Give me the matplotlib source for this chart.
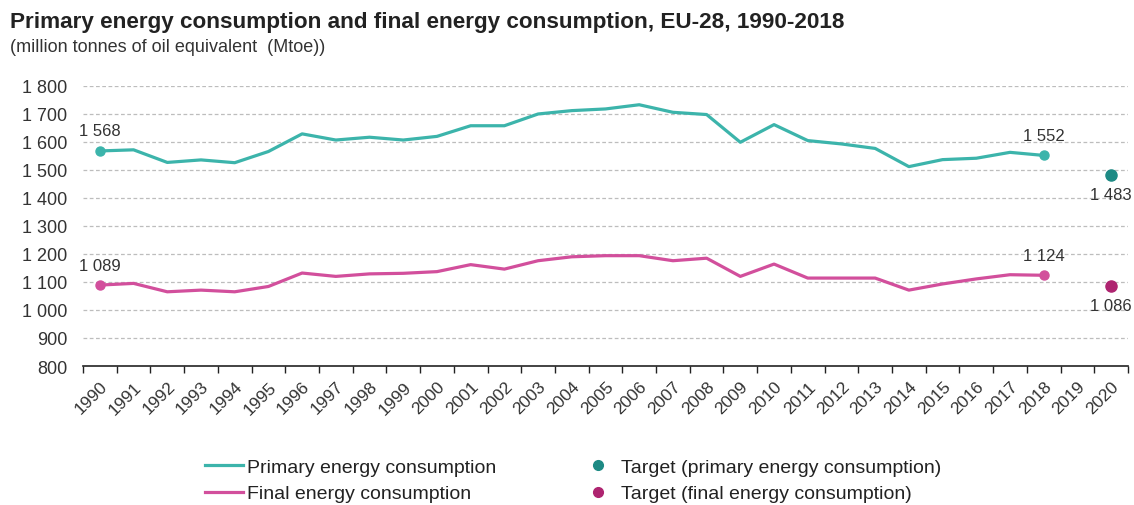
import matplotlib
matplotlib.use("Agg")
import matplotlib.pyplot as plt
import numpy as np
from matplotlib.lines import Line2D
from matplotlib.ticker import FixedLocator, FuncFormatter

plt.rcParams["font.family"] = ["Liberation Sans", "DejaVu Sans"]

years = list(range(1990, 2021))
data_years = list(range(1990, 2019))
primary = [1568, 1572, 1527, 1536, 1526, 1566, 1629, 1607, 1617, 1607, 1620, 1658, 1658,
           1700, 1712, 1718, 1733, 1706, 1698, 1599, 1662, 1605, 1593, 1577, 1512, 1537,
           1542, 1563, 1552]
final = [1089, 1095, 1065, 1071, 1065, 1084, 1132, 1120, 1129, 1131, 1137, 1162, 1146,
         1176, 1190, 1194, 1194, 1176, 1185, 1120, 1164, 1114, 1114, 1114, 1071, 1093,
         1111, 1126, 1124]
target_year = 2020
target_primary = 1483
target_final = 1086

C_PRIM = "#3cb4ab"
C_PRIM_T = "#1d8a84"
C_FIN = "#d24f9c"
C_FIN_T = "#ae2470"


def fmt(v):
    return f"{int(v):,}".replace(",", " ")


fig = plt.figure(figsize=(11.34, 5.06), dpi=100)
ax = fig.add_axes([0.0732, 0.2747, 0.9215, 0.5534])

xi = np.array([y - years[0] for y in data_years])
ti = target_year - years[0]

ax.plot(xi, primary, color=C_PRIM, lw=2.3, solid_joinstyle="round", zorder=3)
ax.plot(xi, final, color=C_FIN, lw=2.3, solid_joinstyle="round", zorder=3)
for s, c in [(primary, C_PRIM), (final, C_FIN)]:
    ax.plot([xi[0], xi[-1]], [s[0], s[-1]], "o", color=c, ms=6.5, zorder=4)
ax.plot([ti], [target_primary], "o", color=C_PRIM_T, ms=8, zorder=4)
ax.plot([ti], [target_final], "o", color=C_FIN_T, ms=8, zorder=4)

lab = dict(fontsize=12, color="#333333", ha="center")
for x, v in [(xi[0], primary[0]), (xi[0], final[0]), (xi[-1], primary[-1]), (xi[-1], final[-1])]:
    ax.annotate(fmt(v), (x, v), xytext=(0, 9), textcoords="offset points", va="bottom", **lab)
for v in [target_primary, target_final]:
    ax.annotate(fmt(v), (ti, v), xytext=(0, -9), textcoords="offset points", va="top", **lab)

ax.set_xlim(-0.5, len(years) - 0.5)
ax.set_ylim(800, 1800)
ax.set_yticks(np.arange(800, 1801, 100))
ax.yaxis.set_major_formatter(FuncFormatter(lambda v, p: fmt(v)))
ax.tick_params(axis="y", length=0, labelsize=13, labelcolor="#333333", pad=11.5)

ax.set_xticks(np.arange(len(years)))
ax.set_xticklabels([str(y) for y in years], rotation=45, ha="right", rotation_mode="anchor")
ax.tick_params(axis="x", which="major", length=0, labelsize=12.5, labelcolor="#333333", pad=9)
ax.xaxis.set_minor_locator(FixedLocator(np.arange(-0.5, len(years), 1)))
ax.tick_params(axis="x", which="minor", length=5, width=1, color="#222222", direction="out")

for v in range(900, 1801, 100):
    ax.axhline(v, color="#bdbdbd", lw=0.9, ls=(0, (3, 2)), zorder=1)

for sp in ["top", "right", "left"]:
    ax.spines[sp].set_visible(False)
ax.spines["bottom"].set_color("#222222")
ax.spines["bottom"].set_linewidth(1.2)

fig.text(0.009, 0.956, "Primary energy consumption and final energy consumption, EU-28, 1990-2018",
         fontsize=16.2, fontweight="bold", color="#222222", va="center")
fig.text(0.009, 0.906, "(million tonnes of oil equivalent  (Mtoe))",
         fontsize=13, color="#333333", va="center")

leg_kw = dict(loc="upper left", frameon=False, fontsize=14, handlelength=1.95,
              handletextpad=0.2, labelspacing=0.45, borderpad=0, borderaxespad=0,
              labelcolor="#222222")
fig.legend([Line2D([], [], color=C_PRIM, lw=2.3), Line2D([], [], color=C_FIN, lw=2.3)],
           ["Primary energy consumption", "Final energy consumption"],
           bbox_to_anchor=(0.181, 0.092), **leg_kw)
fig.legend([Line2D([], [], color=C_PRIM_T, marker="o", ls="none", ms=7),
            Line2D([], [], color=C_FIN_T, marker="o", ls="none", ms=7)],
           ["Target (primary energy consumption)", "Target (final energy consumption)"],
           bbox_to_anchor=(0.511, 0.092), **leg_kw)

fig.savefig("out.png", dpi=100)
